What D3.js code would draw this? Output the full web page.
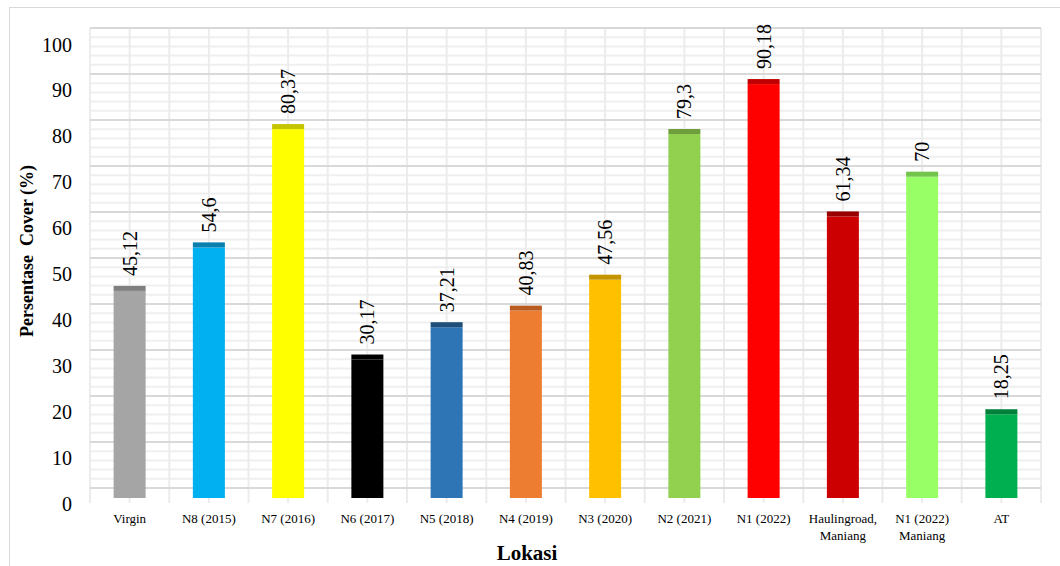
<!DOCTYPE html>
<html>
<head>
<meta charset="utf-8">
<script src="https://cdn.jsdelivr.net/npm/d3@7"></script>
<style>
  html, body { margin: 0; padding: 0; background: #ffffff; }
  svg { display: block; }
  text { font-family: "Liberation Serif", "Times New Roman", serif; fill: #000; }
</style>
</head>
<body>
<svg id="chart" width="1060" height="566"></svg>
<script>
// Locations along the x axis (line breaks marked with \n)
const categories = [
  "Virgin", "N8 (2015)", "N7 (2016)", "N6 (2017)", "N5 (2018)", "N4 (2019)",
  "N3 (2020)", "N2 (2021)", "N1 (2022)", "Haulingroad,\nManiang", "N1 (2022)\nManiang", "AT"
];
// Cover percentage per location
const coverValues = [45.12, 54.6, 80.37, 30.17, 37.21, 40.83, 47.56, 79.3, 90.18, 61.34, 70, 18.25];
// Value labels as printed
const valueLabels = ["45,12", "54,6", "80,37", "30,17", "37,21", "40,83", "47,56", "79,3", "90,18", "61,34", "70", "18,25"];
// Y axis tick values
const yTicks = [0, 10, 20, 30, 40, 50, 60, 70, 80, 90, 100];

// Column face colours and their darker top faces
const faceColors = ["#a5a5a5", "#00b0f0", "#ffff00", "#000000", "#2e75b6", "#ed7d31",
                    "#ffc000", "#92d050", "#ff0000", "#cc0000", "#99ff66", "#00b050"];
const topColors  = ["#7f7f7f", "#0a7fae", "#c4c400", "#000000", "#1f4e79", "#b85c22",
                    "#c49400", "#6e9e3c", "#c00000", "#990000", "#72c44c", "#00803a"];

const FONT = "'Liberation Serif', 'Times New Roman', serif";
const svg = d3.select("#chart");

// outer frame of the chart area
svg.append("line").attr("x1", 9).attr("x2", 1060).attr("y1", 7.5).attr("y2", 7.5)
  .attr("stroke", "#d9d9d9").attr("stroke-width", 1);
svg.append("line").attr("x1", 9.5).attr("x2", 9.5).attr("y1", 7).attr("y2", 566)
  .attr("stroke", "#d9d9d9").attr("stroke-width", 1);

const x = d3.scaleBand().domain(categories).range([90, 1041]).padding(0);
const bw = x.bandwidth();
// front plane (columns, axis labels) and back wall (gridlines)
const yFront = d3.scaleLinear().domain([0, 100]).range([498, 39]);
const yBack = d3.scaleLinear().domain([0, 100]).range([488, 28]);

const grid = svg.append("g");

// minor gridlines on the back wall every 2 %
d3.range(0, 101, 2).filter(v => v % 10 !== 0).forEach(v => {
  grid.append("line")
    .attr("x1", 90).attr("x2", 1041)
    .attr("y1", yBack(v)).attr("y2", yBack(v))
    .attr("stroke", "#efefef").attr("stroke-width", 2);
});

// vertical gridlines at category edges and centres
const vLines = [];
categories.forEach(c => { vLines.push(x(c)); vLines.push(x(c) + bw / 2); });
vLines.push(x(categories[categories.length - 1]) + bw);
vLines.forEach(vx => {
  grid.append("line")
    .attr("x1", vx).attr("x2", vx)
    .attr("y1", yBack(100)).attr("y2", 503)
    .attr("stroke", "#ececec").attr("stroke-width", 2);
});

// major gridlines every 10 %
yTicks.forEach(v => {
  grid.append("line")
    .attr("x1", 90).attr("x2", 1041)
    .attr("y1", yBack(v)).attr("y2", yBack(v))
    .attr("stroke", "#d9d9d9").attr("stroke-width", 2);
});

// columns
const bars = svg.append("g");
categories.forEach((c, i) => {
  const cx = x(c) + bw / 2;
  const v = coverValues[i];
  const w = 32;
  bars.append("rect")
    .attr("x", cx - w / 2).attr("width", w)
    .attr("y", yFront(v)).attr("height", yFront(0) - yFront(v))
    .attr("fill", faceColors[i]);
  bars.append("rect")
    .attr("x", cx - w / 2).attr("width", w)
    .attr("y", yFront(v) - 5).attr("height", 5)
    .attr("fill", topColors[i]);
  // value label, rotated
  const ly = yFront(v) - 5 - 10;
  bars.append("text")
    .attr("transform", `translate(${cx},${ly}) rotate(-90)`)
    .attr("text-anchor", "start")
    .attr("dominant-baseline", "central")
    .style("font-family", FONT)
    .attr("font-size", 20)
    .text(valueLabels[i]);
});

// y axis labels
const yAxis = d3.axisLeft(yFront).tickValues(yTicks).tickSize(0).tickPadding(0);
const yg = svg.append("g").attr("transform", "translate(72,5)").call(yAxis);
yg.select(".domain").remove();
yg.selectAll("text")
  .style("font-family", FONT)
  .attr("font-size", 20)
  .attr("fill", "#000")
  .attr("dy", "0.35em");

// x axis category labels
const xl = svg.append("g");
categories.forEach(c => {
  const lines = c.split("\n");
  const t = xl.append("text")
    .attr("x", x(c) + bw / 2)
    .attr("y", 523)
    .attr("text-anchor", "middle")
    .style("font-family", FONT)
    .attr("font-size", 13);
  lines.forEach((ln, k) => {
    t.append("tspan")
      .attr("x", x(c) + bw / 2)
      .attr("dy", k === 0 ? 0 : 17)
      .text(ln);
  });
});

// axis titles
svg.append("text")
  .attr("x", 527).attr("y", 560)
  .attr("text-anchor", "middle")
  .style("font-family", FONT)
  .attr("font-size", 21).attr("font-weight", "bold")
  .text("Lokasi");

svg.append("text")
  .attr("transform", "translate(33,251) rotate(-90)")
  .attr("text-anchor", "middle")
  .style("font-family", FONT)
  .attr("font-size", 18).attr("font-weight", "bold")
  .style("white-space", "pre")
  .text("Persentase  Cover (%)");
</script>
</body>
</html>
